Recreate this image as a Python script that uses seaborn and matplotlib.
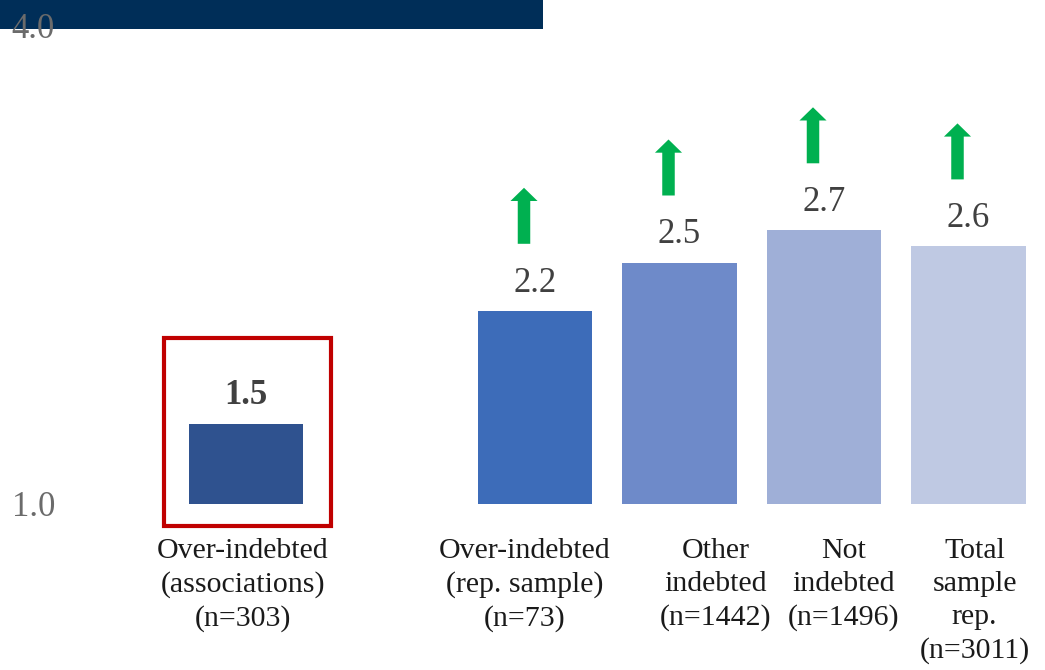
import matplotlib
matplotlib.use("Agg")
import matplotlib.pyplot as plt
from matplotlib.patches import Rectangle
from matplotlib.transforms import offset_copy
import pandas as pd
import seaborn as sns

# ---- data -------------------------------------------------------------
groups = [
    "Over-indebted\n(associations)\n(n=303)",
    "Over-indebted\n(rep. sample)\n(n=73)",
    "Other\nindebted\n(n=1442)",
    "Not\nindebted\n(n=1496)",
    "Total\nsample\nrep.\n(n=3011)",
]
scores = [1.5, 2.2, 2.5, 2.7, 2.6]
baseline = 1.0
axis_top = 4.0
rising = [False, True, True, True, True]   # groups marked with an upward arrow

# ---- styling ----------------------------------------------------------
bar_colors = ["#2F528F", "#3D6CB9", "#6E8AC9", "#9FAFD7", "#BFC9E3"]
arrow_green = "#00B050"
navy = "#002E58"
box_red = "#C00000"
label_dx_px = [-3, -10, 36, 20, 6]       # horizontal nudge of the group names

sns.set_theme(style="white")
plt.rcParams["font.family"] = ["Liberation Serif", "DejaVu Serif"]

W, H = 1045, 670
fig = plt.figure(figsize=(W / 100, H / 100), dpi=100)
left_px = 62
ax = fig.add_axes([left_px / W, 0, (W - left_px) / W, 1])

# a blank slot after the first group separates it from the representative sample
gap = " "
order = [groups[0], gap] + groups[1:]
df = pd.DataFrame({"group": groups, "height": [s - baseline for s in scores]})

sns.barplot(data=df, x="group", y="height", hue="group", order=order,
            hue_order=groups, palette=dict(zip(groups, bar_colors)),
            width=0.79, dodge=False, legend=False, saturation=1,
            linewidth=0, ax=ax)

# pixel geometry: group 0 centred at 246 px, 144.5 px per slot; 161 px per unit
x0_px, slot_px, base_px, unit_px = 246, 144.5, 504, 161
ax.set_xlim((left_px - x0_px) / slot_px, (W - x0_px) / slot_px)
ax.set_ylim(-(H - base_px) / unit_px, base_px / unit_px)

ax.set_yticks([0, axis_top - baseline])
ax.set_yticklabels([f"{baseline:.1f}", f"{axis_top:.1f}"])
ax.tick_params(axis="y", length=0, pad=5, labelsize=25, labelcolor="#6B6B6B")
ax.set_xticks([])
ax.set_xlabel("")
ax.set_ylabel("")
for sp in ax.spines.values():
    sp.set_visible(False)
# nudge the top tick label down a little, as it sits on the title band
ax.get_yticklabels()[1].set_transform(
    ax.get_yticklabels()[1].get_transform() + matplotlib.transforms.Affine2D().translate(0, -4))

positions = [order.index(g) for g in groups]

# value labels above bars
for i, (pos, s) in enumerate(zip(positions, scores)):
    ax.annotate(f"{s:.1f}", xy=(pos, s - baseline), xytext=(0, 8),
                textcoords="offset points", ha="center", va="bottom",
                fontsize=25, color="#404040",
                fontweight="bold" if i == 0 else "normal")

# upward arrows
for pos, s, up in zip(positions, scores, rising):
    if not up:
        continue
    base = offset_copy(ax.transData, fig=fig, x=-11, y=67, units="dots")
    tip = offset_copy(ax.transData, fig=fig, x=-11, y=123, units="dots")
    ax.annotate("", xy=(pos, s - baseline), xycoords=tip,
                xytext=(pos, s - baseline), textcoords=base,
                arrowprops=dict(arrowstyle="simple,head_length=0.95,head_width=1.95,tail_width=0.9",
                                color=arrow_green, shrinkA=0, shrinkB=0,
                                mutation_scale=10, linewidth=0))

# group names under the bars
for pos, name, dx in zip(positions, groups, label_dx_px):
    tr = offset_copy(ax.transData, fig=fig, x=dx, y=-34, units="dots")
    ax.text(pos, 0, name, transform=tr, ha="center", va="top",
            fontsize=21.5, color="#1A1A1A", linespacing=1.35,
            multialignment="center")

# highlight frame around the association sample
bw = 0.79
box_left = positions[0] - bw / 2 - 0.17
box_right = positions[0] + bw / 2 + 0.19
box_bottom = -22 / unit_px
box_top = scores[0] - baseline + 0.53
ax.add_patch(Rectangle((box_left, box_bottom), box_right - box_left,
                       box_top - box_bottom, fill=False, edgecolor=box_red,
                       linewidth=3, zorder=3))

# title band across the top
ax.add_patch(Rectangle((0, 1 - 29 / H), 543 / W, 29 / H, transform=fig.transFigure,
                       facecolor=navy, edgecolor="none", clip_on=False, zorder=0.2))

fig.savefig("out.png", dpi=100)
